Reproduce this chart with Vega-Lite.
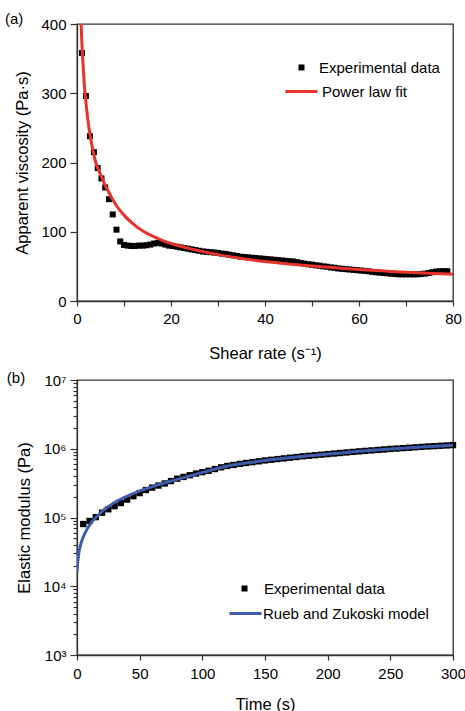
{
  "$schema": "https://vega.github.io/schema/vega-lite/v6.json",
  "padding": {"left": 4, "right": 5, "top": 11, "bottom": 0},
  "background": "white",
  "config": {
    "font": "Liberation Sans",
    "view": {"stroke": "#333", "strokeWidth": 1.3},
    "axis": {"domainColor": "#333", "domainWidth": 1.3, "tickColor": "#333", "tickWidth": 1.2, "labelColor": "#000", "titleColor": "#000", "labelFontSize": 15, "titleFontSize": 16.5, "titleFontWeight": "normal", "grid": false, "labelFont": "Liberation Sans", "titleFont": "Liberation Sans"},
    "legend": {"labelFontSize": 15, "labelFont": "Liberation Sans", "labelColor": "#000", "padding": 0, "labelLimit": 400},
    "title": {"fontSize": 15, "fontWeight": "normal", "anchor": "start", "frame": "bounds", "color": "#000"}
  },
  "spacing": 7,
  "resolve": {"scale": {"color": "independent", "shape": "independent"}, "legend": {"color": "independent", "shape": "independent"}},
  "vconcat": [
    {
      "title": {"text": "(a)", "offset": -10, "dx": -10},
      "width": 376,
      "height": 277,
      "layer": [
        {
          "data": {"values": [
            {"rate": 1.05, "visc": 358, "series": "Experimental data"},
            {"rate": 1.9, "visc": 296, "series": "Experimental data"},
            {"rate": 2.75, "visc": 238, "series": "Experimental data"},
            {"rate": 3.6, "visc": 215, "series": "Experimental data"},
            {"rate": 4.4, "visc": 192, "series": "Experimental data"},
            {"rate": 5.2, "visc": 177, "series": "Experimental data"},
            {"rate": 6.0, "visc": 164, "series": "Experimental data"},
            {"rate": 6.8, "visc": 147, "series": "Experimental data"},
            {"rate": 7.6, "visc": 125, "series": "Experimental data"},
            {"rate": 8.4, "visc": 103, "series": "Experimental data"},
            {"rate": 9.2, "visc": 86, "series": "Experimental data"},
            {"rate": 10.0, "visc": 81, "series": "Experimental data"},
            {"rate": 10.8, "visc": 80, "series": "Experimental data"},
            {"rate": 11.6, "visc": 79.5, "series": "Experimental data"},
            {"rate": 12.4, "visc": 79.5, "series": "Experimental data"},
            {"rate": 13.2, "visc": 80, "series": "Experimental data"},
            {"rate": 14.0, "visc": 80, "series": "Experimental data"},
            {"rate": 14.8, "visc": 80.5, "series": "Experimental data"},
            {"rate": 15.6, "visc": 81.5, "series": "Experimental data"},
            {"rate": 16.4, "visc": 83, "series": "Experimental data"},
            {"rate": 17.2, "visc": 84, "series": "Experimental data"},
            {"rate": 18.0, "visc": 83, "series": "Experimental data"},
            {"rate": 18.8, "visc": 81.5, "series": "Experimental data"},
            {"rate": 19.6, "visc": 80, "series": "Experimental data"},
            {"rate": 20.4, "visc": 79.5, "series": "Experimental data"},
            {"rate": 21.2, "visc": 78.5, "series": "Experimental data"},
            {"rate": 22.0, "visc": 77.5, "series": "Experimental data"},
            {"rate": 22.8, "visc": 76.5, "series": "Experimental data"},
            {"rate": 23.6, "visc": 75.5, "series": "Experimental data"},
            {"rate": 24.4, "visc": 74.5, "series": "Experimental data"},
            {"rate": 25.2, "visc": 73.5, "series": "Experimental data"},
            {"rate": 26.0, "visc": 72.5, "series": "Experimental data"},
            {"rate": 26.8, "visc": 71.5, "series": "Experimental data"},
            {"rate": 27.6, "visc": 71, "series": "Experimental data"},
            {"rate": 28.4, "visc": 70.5, "series": "Experimental data"},
            {"rate": 29.2, "visc": 70, "series": "Experimental data"},
            {"rate": 30.0, "visc": 69.5, "series": "Experimental data"},
            {"rate": 30.8, "visc": 68.5, "series": "Experimental data"},
            {"rate": 31.6, "visc": 68, "series": "Experimental data"},
            {"rate": 32.4, "visc": 67, "series": "Experimental data"},
            {"rate": 33.2, "visc": 66, "series": "Experimental data"},
            {"rate": 34.0, "visc": 65, "series": "Experimental data"},
            {"rate": 34.8, "visc": 64, "series": "Experimental data"},
            {"rate": 35.6, "visc": 63.5, "series": "Experimental data"},
            {"rate": 36.4, "visc": 63, "series": "Experimental data"},
            {"rate": 37.2, "visc": 62.5, "series": "Experimental data"},
            {"rate": 38.0, "visc": 62, "series": "Experimental data"},
            {"rate": 38.8, "visc": 61.5, "series": "Experimental data"},
            {"rate": 39.6, "visc": 61, "series": "Experimental data"},
            {"rate": 40.4, "visc": 60.5, "series": "Experimental data"},
            {"rate": 41.2, "visc": 60, "series": "Experimental data"},
            {"rate": 42.0, "visc": 59.5, "series": "Experimental data"},
            {"rate": 42.8, "visc": 59, "series": "Experimental data"},
            {"rate": 43.6, "visc": 58.5, "series": "Experimental data"},
            {"rate": 44.4, "visc": 58, "series": "Experimental data"},
            {"rate": 45.2, "visc": 57.5, "series": "Experimental data"},
            {"rate": 46.0, "visc": 57, "series": "Experimental data"},
            {"rate": 46.8, "visc": 56, "series": "Experimental data"},
            {"rate": 47.6, "visc": 55, "series": "Experimental data"},
            {"rate": 48.4, "visc": 54, "series": "Experimental data"},
            {"rate": 49.2, "visc": 53, "series": "Experimental data"},
            {"rate": 50.0, "visc": 52.5, "series": "Experimental data"},
            {"rate": 50.8, "visc": 51.5, "series": "Experimental data"},
            {"rate": 51.6, "visc": 51, "series": "Experimental data"},
            {"rate": 52.4, "visc": 50, "series": "Experimental data"},
            {"rate": 53.2, "visc": 49.5, "series": "Experimental data"},
            {"rate": 54.0, "visc": 48.5, "series": "Experimental data"},
            {"rate": 54.8, "visc": 48, "series": "Experimental data"},
            {"rate": 55.6, "visc": 47, "series": "Experimental data"},
            {"rate": 56.4, "visc": 46.5, "series": "Experimental data"},
            {"rate": 57.2, "visc": 46, "series": "Experimental data"},
            {"rate": 58.0, "visc": 45.5, "series": "Experimental data"},
            {"rate": 58.8, "visc": 45, "series": "Experimental data"},
            {"rate": 59.6, "visc": 44.5, "series": "Experimental data"},
            {"rate": 60.4, "visc": 44, "series": "Experimental data"},
            {"rate": 61.2, "visc": 43.5, "series": "Experimental data"},
            {"rate": 62.0, "visc": 43, "series": "Experimental data"},
            {"rate": 62.8, "visc": 42, "series": "Experimental data"},
            {"rate": 63.6, "visc": 41.5, "series": "Experimental data"},
            {"rate": 64.4, "visc": 41, "series": "Experimental data"},
            {"rate": 65.2, "visc": 40.5, "series": "Experimental data"},
            {"rate": 66.0, "visc": 40, "series": "Experimental data"},
            {"rate": 66.8, "visc": 39.5, "series": "Experimental data"},
            {"rate": 67.6, "visc": 39, "series": "Experimental data"},
            {"rate": 68.4, "visc": 38.5, "series": "Experimental data"},
            {"rate": 69.2, "visc": 38.5, "series": "Experimental data"},
            {"rate": 70.0, "visc": 38.5, "series": "Experimental data"},
            {"rate": 70.8, "visc": 38.5, "series": "Experimental data"},
            {"rate": 71.6, "visc": 38.5, "series": "Experimental data"},
            {"rate": 72.4, "visc": 38.5, "series": "Experimental data"},
            {"rate": 73.2, "visc": 39, "series": "Experimental data"},
            {"rate": 74.0, "visc": 39.5, "series": "Experimental data"},
            {"rate": 74.8, "visc": 40.5, "series": "Experimental data"},
            {"rate": 75.6, "visc": 41.5, "series": "Experimental data"},
            {"rate": 76.4, "visc": 42.5, "series": "Experimental data"},
            {"rate": 77.2, "visc": 43, "series": "Experimental data"},
            {"rate": 78.0, "visc": 43, "series": "Experimental data"},
            {"rate": 78.8, "visc": 43, "series": "Experimental data"}
          ]},
          "mark": {"type": "point", "filled": true, "size": 36, "color": "#000", "opacity": 1},
          "encoding": {
            "x": {"field": "rate", "type": "quantitative", "scale": {"domain": [0, 80], "nice": false},
              "axis": {"values": [0, 10, 20, 30, 40, 50, 60, 70, 80], "labelExpr": "datum.value % 20 == 0 ? datum.label : ''", "tickSize": 5, "labelPadding": 5, "titlePadding": 19, "title": "Shear rate (s⁻¹)", "labelFlush": false}},
            "y": {"field": "visc", "type": "quantitative", "scale": {"domain": [0, 400], "nice": false},
              "axis": {"values": [0, 25, 50, 75, 100, 125, 150, 175, 200, 225, 250, 275, 300, 325, 350, 375, 400], "labelExpr": "datum.value % 100 == 0 ? datum.label : ''", "tickSize": {"condition": {"test": "datum.value % 100 == 0", "value": 7}, "value": 4}, "labelPadding": 4, "titlePadding": 10, "title": "Apparent viscosity (Pa·s)", "labelFlush": false}},
            "shape": {"field": "series", "type": "nominal", "scale": {"range": ["square"]},
              "legend": {"title": null, "orient": "none", "legendX": 217, "legendY": 36, "symbolSize": 36, "symbolFillColor": "#000", "symbolStrokeColor": "#000", "symbolStrokeWidth": 0, "labelOffset": 10}}
          }
        },
        {
          "data": {"values": [
            {"rate": 0.75, "visc": 420, "fit": "Power law fit"},
            {"rate": 1.0, "visc": 378, "fit": "Power law fit"},
            {"rate": 1.5, "visc": 318, "fit": "Power law fit"},
            {"rate": 2.0, "visc": 280, "fit": "Power law fit"},
            {"rate": 2.5, "visc": 252, "fit": "Power law fit"},
            {"rate": 3.0, "visc": 231, "fit": "Power law fit"},
            {"rate": 3.5, "visc": 214, "fit": "Power law fit"},
            {"rate": 4.0, "visc": 200, "fit": "Power law fit"},
            {"rate": 5.0, "visc": 183, "fit": "Power law fit"},
            {"rate": 6.0, "visc": 167, "fit": "Power law fit"},
            {"rate": 7.0, "visc": 154, "fit": "Power law fit"},
            {"rate": 8.0, "visc": 142, "fit": "Power law fit"},
            {"rate": 9.0, "visc": 132, "fit": "Power law fit"},
            {"rate": 10.0, "visc": 124, "fit": "Power law fit"},
            {"rate": 12.0, "visc": 111, "fit": "Power law fit"},
            {"rate": 14.0, "visc": 101, "fit": "Power law fit"},
            {"rate": 16.0, "visc": 94, "fit": "Power law fit"},
            {"rate": 18.0, "visc": 88, "fit": "Power law fit"},
            {"rate": 20.0, "visc": 83, "fit": "Power law fit"},
            {"rate": 25.0, "visc": 74, "fit": "Power law fit"},
            {"rate": 30.0, "visc": 67, "fit": "Power law fit"},
            {"rate": 35.0, "visc": 61.5, "fit": "Power law fit"},
            {"rate": 40.0, "visc": 57, "fit": "Power law fit"},
            {"rate": 45.0, "visc": 53.5, "fit": "Power law fit"},
            {"rate": 50.0, "visc": 50.5, "fit": "Power law fit"},
            {"rate": 55.0, "visc": 48, "fit": "Power law fit"},
            {"rate": 60.0, "visc": 45.5, "fit": "Power law fit"},
            {"rate": 65.0, "visc": 43.5, "fit": "Power law fit"},
            {"rate": 70.0, "visc": 41.5, "fit": "Power law fit"},
            {"rate": 75.0, "visc": 40, "fit": "Power law fit"},
            {"rate": 80.0, "visc": 38.5, "fit": "Power law fit"}
          ]},
          "mark": {"type": "line", "strokeWidth": 3, "clip": true, "interpolate": "monotone"},
          "encoding": {
            "x": {"field": "rate", "type": "quantitative"},
            "y": {"field": "visc", "type": "quantitative"},
            "color": {"field": "fit", "type": "nominal", "scale": {"range": ["#e8322b"]},
              "legend": {"title": null, "orient": "none", "legendX": 207, "legendY": 50, "symbolType": "stroke", "symbolSize": 1024, "symbolStrokeWidth": 3, "labelOffset": 3}}
          }
        }
      ]
    },
    {
      "title": {"text": "(b)", "offset": -13, "dx": -10},
      "width": 376,
      "height": 275,
      "layer": [
        {
          "data": {"values": [
            {"t": 5, "G": 80350, "exp": "Experimental data"},
            {"t": 10, "G": 89130, "exp": "Experimental data"},
            {"t": 15, "G": 101200, "exp": "Experimental data"},
            {"t": 20, "G": 117500, "exp": "Experimental data"},
            {"t": 25, "G": 131800, "exp": "Experimental data"},
            {"t": 30, "G": 146200, "exp": "Experimental data"},
            {"t": 35, "G": 162200, "exp": "Experimental data"},
            {"t": 40, "G": 182000, "exp": "Experimental data"},
            {"t": 45, "G": 204200, "exp": "Experimental data"},
            {"t": 50, "G": 226500, "exp": "Experimental data"},
            {"t": 55, "G": 251200, "exp": "Experimental data"},
            {"t": 60, "G": 272300, "exp": "Experimental data"},
            {"t": 65, "G": 291700, "exp": "Experimental data"},
            {"t": 70, "G": 312600, "exp": "Experimental data"},
            {"t": 75, "G": 338800, "exp": "Experimental data"},
            {"t": 80, "G": 367300, "exp": "Experimental data"},
            {"t": 85, "G": 389000, "exp": "Experimental data"},
            {"t": 90, "G": 412100, "exp": "Experimental data"},
            {"t": 95, "G": 436500, "exp": "Experimental data"},
            {"t": 100, "G": 457100, "exp": "Experimental data"},
            {"t": 105, "G": 478600, "exp": "Experimental data"},
            {"t": 110, "G": 507000, "exp": "Experimental data"},
            {"t": 115, "G": 537000, "exp": "Experimental data"},
            {"t": 120, "G": 562300, "exp": "Experimental data"},
            {"t": 125, "G": 582100, "exp": "Experimental data"},
            {"t": 130, "G": 602600, "exp": "Experimental data"},
            {"t": 135, "G": 620900, "exp": "Experimental data"},
            {"t": 140, "G": 638300, "exp": "Experimental data"},
            {"t": 145, "G": 656100, "exp": "Experimental data"},
            {"t": 150, "G": 676100, "exp": "Experimental data"},
            {"t": 155, "G": 691800, "exp": "Experimental data"},
            {"t": 160, "G": 707900, "exp": "Experimental data"},
            {"t": 165, "G": 724400, "exp": "Experimental data"},
            {"t": 170, "G": 741300, "exp": "Experimental data"},
            {"t": 175, "G": 758600, "exp": "Experimental data"},
            {"t": 180, "G": 776200, "exp": "Experimental data"},
            {"t": 185, "G": 790700, "exp": "Experimental data"},
            {"t": 190, "G": 805400, "exp": "Experimental data"},
            {"t": 195, "G": 820400, "exp": "Experimental data"},
            {"t": 200, "G": 835600, "exp": "Experimental data"},
            {"t": 205, "G": 851100, "exp": "Experimental data"},
            {"t": 210, "G": 867000, "exp": "Experimental data"},
            {"t": 215, "G": 883100, "exp": "Experimental data"},
            {"t": 220, "G": 899500, "exp": "Experimental data"},
            {"t": 225, "G": 916200, "exp": "Experimental data"},
            {"t": 230, "G": 931100, "exp": "Experimental data"},
            {"t": 235, "G": 946200, "exp": "Experimental data"},
            {"t": 240, "G": 961600, "exp": "Experimental data"},
            {"t": 245, "G": 977200, "exp": "Experimental data"},
            {"t": 250, "G": 993100, "exp": "Experimental data"},
            {"t": 255, "G": 1006900, "exp": "Experimental data"},
            {"t": 260, "G": 1020900, "exp": "Experimental data"},
            {"t": 265, "G": 1035100, "exp": "Experimental data"},
            {"t": 270, "G": 1049500, "exp": "Experimental data"},
            {"t": 275, "G": 1064100, "exp": "Experimental data"},
            {"t": 280, "G": 1078900, "exp": "Experimental data"},
            {"t": 285, "G": 1091400, "exp": "Experimental data"},
            {"t": 290, "G": 1104100, "exp": "Experimental data"},
            {"t": 295, "G": 1116900, "exp": "Experimental data"},
            {"t": 300, "G": 1129800, "exp": "Experimental data"}
          ]},
          "mark": {"type": "point", "filled": true, "size": 40, "color": "#000", "opacity": 1},
          "encoding": {
            "x": {"field": "t", "type": "quantitative", "scale": {"domain": [0, 300], "nice": false},
              "axis": {"values": [0, 25, 50, 75, 100, 125, 150, 175, 200, 225, 250, 275, 300], "labelExpr": "datum.value % 50 == 0 ? datum.label : ''", "tickSize": 5, "labelPadding": 6, "titlePadding": 15, "title": "Time (s)", "labelFlush": false}},
            "y": {"field": "G", "type": "quantitative", "scale": {"type": "log", "domain": [1000, 10000000], "nice": false},
              "axis": {"values": [1000, 2000, 3000, 4000, 5000, 6000, 7000, 8000, 9000, 10000, 20000, 30000, 40000, 50000, 60000, 70000, 80000, 90000, 100000, 200000, 300000, 400000, 500000, 600000, 700000, 800000, 900000, 1000000, 2000000, 3000000, 4000000, 5000000, 6000000, 7000000, 8000000, 9000000, 10000000],
                "labelExpr": "datum.value == 1000 ? '10³' : datum.value == 10000 ? '10⁴' : datum.value == 100000 ? '10⁵' : datum.value == 1000000 ? '10⁶' : datum.value == 10000000 ? '10⁷' : ''",
                "tickSize": {"condition": {"test": "indexof([1000, 10000, 100000, 1000000, 10000000], datum.value) >= 0", "value": 7}, "value": 4},
                "labelPadding": 4, "titlePadding": 10, "title": "Elastic modulus (Pa)", "labelFlush": false}},
            "shape": {"field": "exp", "type": "nominal", "scale": {"range": ["square"]},
              "legend": {"title": null, "orient": "none", "legendX": 160, "legendY": 201, "symbolSize": 36, "symbolFillColor": "#000", "symbolStrokeColor": "#000", "symbolStrokeWidth": 0, "labelOffset": 12}}
          }
        },
        {
          "data": {"values": [
            {"t": 0, "G": 15850, "model": "Rueb and Zukoski model"},
            {"t": 0.5, "G": 21380, "model": "Rueb and Zukoski model"},
            {"t": 1, "G": 26300, "model": "Rueb and Zukoski model"},
            {"t": 1.5, "G": 30900, "model": "Rueb and Zukoski model"},
            {"t": 2.4, "G": 37150, "model": "Rueb and Zukoski model"},
            {"t": 4, "G": 46770, "model": "Rueb and Zukoski model"},
            {"t": 6, "G": 57540, "model": "Rueb and Zukoski model"},
            {"t": 7.7, "G": 66070, "model": "Rueb and Zukoski model"},
            {"t": 10, "G": 77620, "model": "Rueb and Zukoski model"},
            {"t": 12.5, "G": 89130, "model": "Rueb and Zukoski model"},
            {"t": 15.7, "G": 102300, "model": "Rueb and Zukoski model"},
            {"t": 20, "G": 123000, "model": "Rueb and Zukoski model"},
            {"t": 26.4, "G": 149600, "model": "Rueb and Zukoski model"},
            {"t": 32, "G": 173800, "model": "Rueb and Zukoski model"},
            {"t": 37, "G": 192800, "model": "Rueb and Zukoski model"},
            {"t": 47.7, "G": 234400, "model": "Rueb and Zukoski model"},
            {"t": 63.7, "G": 295100, "model": "Rueb and Zukoski model"},
            {"t": 79.8, "G": 358900, "model": "Rueb and Zukoski model"},
            {"t": 101, "G": 457100, "model": "Rueb and Zukoski model"},
            {"t": 120, "G": 562300, "model": "Rueb and Zukoski model"},
            {"t": 138, "G": 631000, "model": "Rueb and Zukoski model"},
            {"t": 160, "G": 707900, "model": "Rueb and Zukoski model"},
            {"t": 185, "G": 790700, "model": "Rueb and Zukoski model"},
            {"t": 200, "G": 835600, "model": "Rueb and Zukoski model"},
            {"t": 225, "G": 916200, "model": "Rueb and Zukoski model"},
            {"t": 250, "G": 993100, "model": "Rueb and Zukoski model"},
            {"t": 275, "G": 1064100, "model": "Rueb and Zukoski model"},
            {"t": 300, "G": 1122000, "model": "Rueb and Zukoski model"}
          ]},
          "mark": {"type": "line", "strokeWidth": 3, "clip": true, "interpolate": "monotone"},
          "encoding": {
            "x": {"field": "t", "type": "quantitative"},
            "y": {"field": "G", "type": "quantitative"},
            "color": {"field": "model", "type": "nominal", "scale": {"range": ["#3f5bab"]},
              "legend": {"title": null, "orient": "none", "legendX": 151, "legendY": 216, "symbolType": "stroke", "symbolSize": 1024, "symbolStrokeWidth": 3, "labelOffset": 0}}
          }
        }
      ]
    }
  ]
}
